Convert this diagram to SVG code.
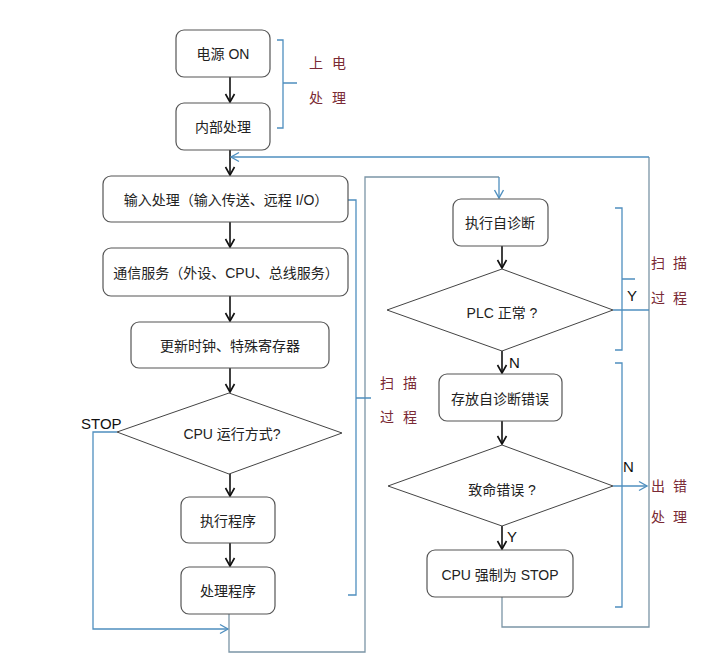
<svg xmlns="http://www.w3.org/2000/svg" width="705" height="661" viewBox="0 0 705 661">
<defs>
<marker id="ab" markerWidth="12" markerHeight="12" refX="10" refY="6" orient="auto" markerUnits="userSpaceOnUse">
<path d="M2,1.5 L10,6 L2,10.5" fill="none" stroke="#111" stroke-width="1.6"/>
</marker>
<marker id="au" markerWidth="12" markerHeight="12" refX="10" refY="6" orient="auto" markerUnits="userSpaceOnUse">
<path d="M2,1.5 L10,6 L2,10.5" fill="none" stroke="#4f8fbf" stroke-width="1.4"/>
</marker>
</defs>
<style>
.box{fill:#fff;stroke:#555;stroke-width:1.2}
.dia{fill:#fff;stroke:#444;stroke-width:1}
.t{font-family:"Liberation Sans","Noto Sans CJK SC",sans-serif;font-size:14px;fill:#222;text-anchor:middle;dominant-baseline:central}
.lb{font-family:"Noto Sans CJK SC",sans-serif;font-size:14px;fill:#7a2a35}
.yn{font-family:"Liberation Sans","Noto Sans CJK SC",sans-serif;font-size:15px;fill:#111}
.blk{fill:none;stroke:#111;stroke-width:1.6}
.blu{fill:none;stroke:#4f8fbf;stroke-width:1.3}
.gry{fill:none;stroke:#7b95a6;stroke-width:1.3}
.brk{fill:none;stroke:#4f8fbf;stroke-width:1.3}
</style>
<rect width="705" height="661" fill="#fff"/>

<g id="connectors">
<line class="blk" x1="230" y1="77" x2="230" y2="102" marker-end="url(#ab)"/>
<line class="blk" x1="230" y1="150" x2="230" y2="175" marker-end="url(#ab)"/>
<line class="blk" x1="230" y1="222" x2="230" y2="247" marker-end="url(#ab)"/>
<line class="blk" x1="230" y1="296" x2="230" y2="321" marker-end="url(#ab)"/>
<line class="blk" x1="230" y1="368" x2="230" y2="392" marker-end="url(#ab)"/>
<line class="blk" x1="230" y1="474" x2="230" y2="496" marker-end="url(#ab)"/>
<line class="blk" x1="230" y1="543" x2="230" y2="566" marker-end="url(#ab)"/>
<line class="blk" x1="502" y1="246" x2="502" y2="268" marker-end="url(#ab)"/>
<line class="blk" x1="502" y1="351" x2="502" y2="373" marker-end="url(#ab)"/>
<line class="blk" x1="502" y1="421" x2="502" y2="444" marker-end="url(#ab)"/>
<line class="blk" x1="502" y1="526" x2="502" y2="549" marker-end="url(#ab)"/>
<polyline class="blu" points="117,432 93,432 93,629 228,629" marker-end="url(#au)"/>
<polyline class="gry" points="229,614 229,652 365,652 365,177 499,177"/>
<line class="blu" x1="499" y1="177" x2="499" y2="198" marker-end="url(#au)"/>
<polyline class="gry" points="502,597 502,627 649,627 649,157"/>
<line class="blu" x1="649" y1="157" x2="231" y2="157" marker-end="url(#au)"/>
<line class="blu" x1="613" y1="310" x2="649" y2="310"/>
<line class="blu" x1="613" y1="486" x2="647" y2="486" marker-end="url(#au)"/>
</g>

<g id="brackets">
<path class="brk" d="M277,40 H283 V128 H277 M283,83 H297"/>
<path class="brk" d="M348,200 H356 V595 H348 M356,398 H371"/>
<path class="brk" d="M615,208 H622 V350 H615 M622,279 H635"/>
<path class="brk" d="M615,363 H622 V607 H615"/>
</g>

<g id="n_power"><rect class="box" x="176" y="30" width="94" height="47" rx="8"/><text class="t" x="223" y="54">电源 ON</text></g>
<g id="n_internal"><rect class="box" x="176" y="103" width="94" height="47" rx="8"/><text class="t" x="223" y="127">内部处理</text></g>
<g id="n_input"><rect class="box" x="103" y="176" width="245" height="46" rx="8"/><text class="t" x="226" y="200">输入处理（输入传送、远程 I/O）</text></g>
<g id="n_comm"><rect class="box" x="103" y="248" width="245" height="48" rx="8"/><text class="t" x="226" y="273">通信服务（外设、CPU、总线服务）</text></g>
<g id="n_clock"><rect class="box" x="131" y="322" width="198" height="46" rx="8"/><text class="t" x="230" y="346">更新时钟、特殊寄存器</text></g>
<g id="n_mode"><polygon class="dia" points="229,393 342,433 229,474 117,432"/><text class="t" x="232" y="434">CPU 运行方式?</text></g>
<g id="n_exec"><rect class="box" x="181" y="497" width="94" height="46" rx="8"/><text class="t" x="228" y="521">执行程序</text></g>
<g id="n_proc"><rect class="box" x="181" y="567" width="94" height="47" rx="8"/><text class="t" x="228" y="591">处理程序</text></g>
<g id="n_diag"><rect class="box" x="453" y="199" width="95" height="47" rx="8"/><text class="t" x="500" y="223">执行自诊断</text></g>
<g id="n_plc"><polygon class="dia" points="502,269 613,310 502,351 387,310"/><text class="t" x="502" y="313">PLC 正常 ?</text></g>
<g id="n_store"><rect class="box" x="439" y="374" width="123" height="47" rx="8"/><text class="t" x="500" y="399">存放自诊断错误</text></g>
<g id="n_fatal"><polygon class="dia" points="502,445 613,486 502,526 388,486"/><text class="t" x="502" y="490">致命错误 ?</text></g>
<g id="n_stop"><rect class="box" x="427" y="550" width="146" height="47" rx="8"/><text class="t" x="500" y="575">CPU 强制为 STOP</text></g>

<g id="labels">
<text class="lb" x="309 332" y="68">上电</text>
<text class="lb" x="309 332" y="103">处理</text>
<text class="lb" x="380 403" y="388">扫描</text>
<text class="lb" x="380 403" y="422">过程</text>
<text class="lb" x="651 673" y="268">扫描</text>
<text class="lb" x="651 673" y="303">过程</text>
<text class="lb" x="651 673" y="491">出错</text>
<text class="lb" x="651 673" y="522">处理</text>
<text class="yn" x="81" y="429">STOP</text>
<text class="yn" x="627" y="301">Y</text>
<text class="yn" x="509" y="368">N</text>
<text class="yn" x="623" y="472">N</text>
<text class="yn" x="507" y="542">Y</text>
</g>
</svg>
